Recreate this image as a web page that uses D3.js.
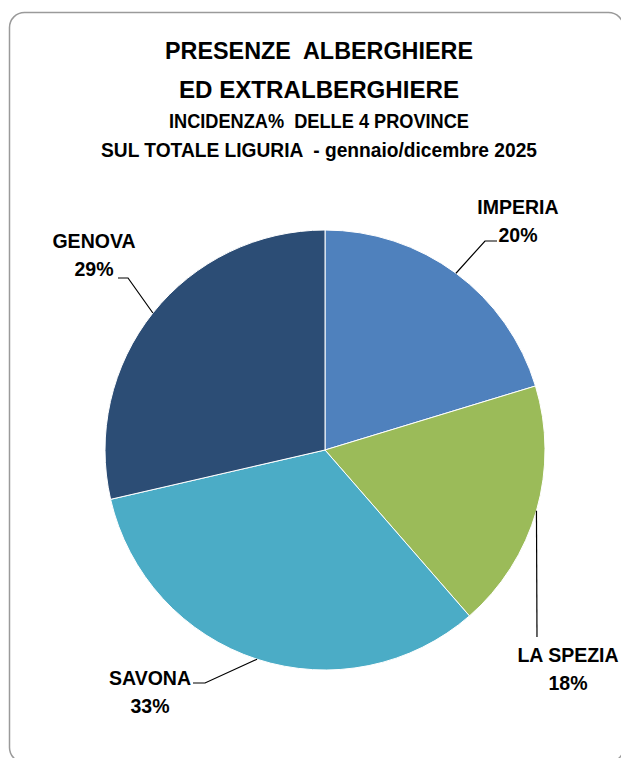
<!DOCTYPE html>
<html>
<head>
<meta charset="utf-8">
<script src="https://cdn.jsdelivr.net/npm/d3@7"></script>
<style>
  html, body { margin: 0; padding: 0; background: #fff; }
  svg { display: block; }
  text.title { white-space: pre; }
</style>
</head>
<body>
<div id="chart"></div>
<script>
  // Data
  const provinces = ['IMPERIA', 'LA SPEZIA', 'SAVONA', 'GENOVA'];
  const shares = [20.3, 18.3, 32.8, 28.6];
  const sliceColors = ['#4f81bd', '#9bbb59', '#4bacc6', '#2c4d75'];
  const titleLines = [
    'PRESENZE  ALBERGHIERE',
    'ED EXTRALBERGHIERE',
    'INCIDENZA%  DELLE 4 PROVINCE',
    'SUL TOTALE LIGURIA  - gennaio/dicembre 2025'
  ];

  // Layout
  const W = 621, H = 758;
  const cx = 325, cy = 450, R = 220;
  const titleStyle = [
    { y: 59, size: 24, width: 308 },
    { y: 98, size: 24, width: 280 },
    { y: 128, size: 19.5, width: 300 },
    { y: 157, size: 19.5, width: 436 }
  ];
  // label anchor (text centre x, first baseline), leader elbow/end
  const labelLayout = {
    'IMPERIA':   { x: 518, y: 214, elbow: [485, 241], end: [497, 241] },
    'LA SPEZIA': { x: 568, y: 662, elbow: null, end: [537, 637] },
    'SAVONA':    { x: 150, y: 685, elbow: [205, 683], end: [193, 683] },
    'GENOVA':    { x: 94,  y: 248, elbow: [128, 278], end: [118, 278] }
  };

  const rows = provinces.map((p, i) => ({ name: p, value: shares[i], color: sliceColors[i] }));

  const svg = d3.select('#chart')
    .append('svg')
    .attr('width', W)
    .attr('height', H)
    .style('font-family', '"Liberation Sans", Arial, sans-serif');

  // Frame
  svg.append('rect')
    .attr('x', 9.5)
    .attr('y', 12.5)
    .attr('width', 614)
    .attr('height', 750)
    .attr('rx', 15)
    .attr('fill', '#fff')
    .attr('stroke', '#9a9a9a')
    .attr('stroke-width', 1.5);

  // Title
  svg.selectAll('text.title')
    .data(titleLines)
    .enter()
    .append('text')
    .attr('class', 'title')
    .attr('x', 319)
    .attr('y', (d, i) => titleStyle[i].y)
    .attr('text-anchor', 'middle')
    .attr('font-weight', 700)
    .attr('font-size', (d, i) => titleStyle[i].size)
    .attr('fill', '#000')
    .attr('textLength', (d, i) => titleStyle[i].width)
    .attr('lengthAdjust', 'spacingAndGlyphs')
    .text(d => d);

  // Pie
  const pie = d3.pie().value(d => d.value).sort(null);
  const arc = d3.arc().innerRadius(0).outerRadius(R);
  const arcs = pie(rows);

  const g = svg.append('g').attr('transform', `translate(${cx},${cy})`);

  g.selectAll('path.slice')
    .data(arcs)
    .enter()
    .append('path')
    .attr('class', 'slice')
    .attr('d', arc)
    .attr('fill', d => d.data.color)
    .attr('stroke', '#fff')
    .attr('stroke-width', 1);

  // Leader lines from the slice edge at mid angle
  function edgePoint(d) {
    const a = (d.startAngle + d.endAngle) / 2;
    return [cx + R * Math.sin(a), cy - R * Math.cos(a)];
  }

  svg.selectAll('path.leader')
    .data(arcs)
    .enter()
    .append('path')
    .attr('class', 'leader')
    .attr('fill', 'none')
    .attr('stroke', '#000')
    .attr('stroke-width', 1.2)
    .attr('d', d => {
      const L = labelLayout[d.data.name];
      const pts = [edgePoint(d)];
      if (L.elbow) pts.push(L.elbow);
      pts.push(L.end);
      return d3.line()(pts);
    });

  // Labels
  const labels = svg.selectAll('g.label')
    .data(arcs)
    .enter()
    .append('g')
    .attr('class', 'label');

  labels.append('text')
    .attr('x', d => labelLayout[d.data.name].x)
    .attr('y', d => labelLayout[d.data.name].y)
    .attr('text-anchor', 'middle')
    .attr('font-weight', 700)
    .attr('font-size', 19.5)
    .text(d => d.data.name);

  labels.append('text')
    .attr('x', d => labelLayout[d.data.name].x)
    .attr('y', d => labelLayout[d.data.name].y + 28)
    .attr('text-anchor', 'middle')
    .attr('font-weight', 700)
    .attr('font-size', 19.5)
    .text(d => Math.round(d.data.value) + '%');
</script>
</body>
</html>
